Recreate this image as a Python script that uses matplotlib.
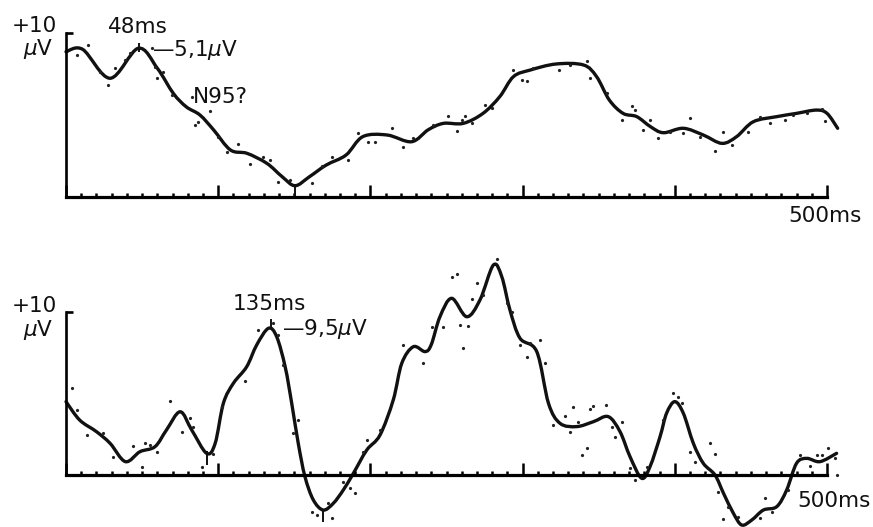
import numpy as np
import matplotlib
matplotlib.use('Agg')
import matplotlib.pyplot as plt
from matplotlib.path import Path
from matplotlib.patches import PathPatch
from matplotlib.ticker import MultipleLocator

plt.rcParams['font.family'] = ['DejaVu Sans']
plt.rcParams['mathtext.fontset'] = 'dejavusans'

# ---- data (ms, uV in panel units: x-axis = 0, bracket = +10) ----
top_ms = [0, 11, 29, 47.5, 60, 70.5, 79, 88, 97, 108, 119, 132, 142, 150.5, 160,
          171, 184, 195, 211, 227, 238, 248, 261, 274, 285, 294, 305, 322, 340, 348.6,
          357, 366, 375, 384, 392.5, 405.6, 418.7, 431, 440.6, 451.6, 467, 480, 493, 500, 507]
top_uv = [8.86, 9.0, 7.24, 9.07, 7.85, 6.32, 5.5, 5.0, 4.09, 2.87, 2.66, 2.05, 1.24, 0.69, 1.24,
          1.95, 2.56, 3.68, 3.78, 3.37, 4.1, 4.49, 4.49, 5.1, 6.12, 7.34, 7.74, 8.11, 8.05, 7.34,
          5.91, 5.1, 4.9, 4.29, 3.92, 4.19, 3.78, 3.27, 3.68, 4.59, 4.9, 5.1, 5.3, 5.1, 4.19]

top_dot_ms = [7, 14.7, 22.3, 27.8, 32.2, 38.8, 42, 56.3, 58.5, 59.6, 64, 69.4, 82.6, 84.8, 86.9,
              94.6, 100.1, 105.6, 113.2, 120.9, 129.7, 134, 139.5, 147.2, 161.4, 168, 174.6,
              185.5, 192.1, 198.6, 203, 214, 221.6, 228.2, 241.3, 251.2, 256.7, 260, 262.1,
              266.5, 275.3, 279.7, 293.9, 299.4, 302.7, 307.1, 323.6, 331.2, 342.2, 344.3,
              355.3, 365.2, 371.7, 373.9, 379.4, 383.7, 389.2, 396.8, 405.6, 410, 416.6, 426.4,
              431.9, 437.4, 448.4, 456, 462.6, 472.4, 477.9, 486.7, 496.6, 498.7]
top_dot_uv = [8.66, 9.27, 7.64, 6.83, 7.85, 8.35, 8.76, 9.07, 7.95, 7.24, 7.64, 6.22, 6.08, 4.39, 4.59,
              5.24, 3.68, 2.76, 3.21, 2.01, 2.46, 2.26, 0.93, 1.04, 0.83, 1.91, 2.46,
              2.26, 3.88, 3.37, 3.37, 4.19, 3.07, 3.58, 4.39, 4.94, 4.02, 4.7, 4.94,
              4.49, 5.61, 5.41, 7.74, 7.13, 7.09, 7.85, 7.74, 8.05, 8.31, 7.24,
              6.32, 4.7, 5.55, 5.3, 4.09, 4.7, 3.62, 3.98, 3.88, 4.8, 3.68, 2.83,
              3.94, 3.17, 3.98, 4.9, 4.49, 4.7, 5.0, 5.1, 5.35, 4.65]

bot_ms = [0, 9, 20, 29, 39, 48.6, 58.5, 66, 75, 82.6, 92.4, 98, 103.4, 110, 118.7,
          125.3, 133, 138.4, 144, 148.3, 152.6, 157, 162.5, 169, 175.6, 182.2, 188.8, 197.6,
          206.3, 215, 220.6, 228.2, 235.9, 240, 245.7, 253.4, 263.3, 272, 280.8, 286.3,
          291.7, 298.3, 309.3, 317, 324.6, 335.6, 346.5, 356.3, 364, 370.6, 378.2, 383.7,
          390.3, 394.6, 400, 405.6, 412.2, 418.7, 426.4, 432, 438.5, 444, 450.6, 458.2,
          467, 473.5, 480, 486.7, 495.4, 506.3]
bot_uv = [4.5, 3.37, 2.66, 1.94, 0.82, 1.43, 1.74, 2.76, 3.88, 2.76, 1.33, 1.94, 4.4, 5.63, 6.64,
          7.98, 9.0, 8.49, 6.64, 4.4, 1.94, -0.1, -1.53, -2.15, -1.74, -0.92, 0.1, 1.53,
          2.45, 4.6, 6.85, 7.87, 7.57, 8.0, 9.71, 10.84, 9.71, 10.74, 12.88, 12.17,
          10.12, 8.39, 7.57, 4.4, 3.17, 2.97, 3.27, 3.58, 2.66, 1.12, -0.2, 0.51,
          2.35, 3.79, 4.5, 3.79, 1.94, 0.72, 0, -1.12, -2.35, -3.07, -2.76, -2.15,
          -1.94, -0.92, 0.72, 1.02, 0.82, 1.33]

bot_dot_ms = [3.7, 7, 13.6, 24.5, 31.1, 44.2, 49.7, 51.9, 55.2, 59.6, 68.3, 76, 81.5, 83.7, 89.1,
              96.8, 102.3, 117.6, 126.4, 136.2, 139.5, 142.8, 149.4, 152.7, 161.4, 164.7, 172.4,
              174.6, 182.2, 186.6, 189.9, 195.4, 197.5, 206.3, 221.6, 234.8, 240.3, 247.9,
              253.4, 256.7, 258.9, 261.1, 264.3, 266.5, 269.8, 274.2, 283, 289.5, 292.8, 298.3,
              302.7, 304.9, 311.5, 314.8, 320.2, 327.9, 331.2, 333.4, 336.7, 338.8, 342.1,
              344.3, 346.5, 354.8, 358.6, 360.8, 365.2, 370.6, 373.9, 381.6, 392.5, 399,
              402.3, 404.5, 410, 413.3, 423.1, 426.4, 428.6, 431.9, 435.2, 441.8, 456, 459.3,
              463.7, 474.6, 482.3, 488.8, 493.2, 496.6, 500.9, 505.3, 506.4]
bot_dot_uv = [5.32, 3.99, 2.45, 2.56, 1.12, 1.78, 0.47, 1.98, 1.84, 1.43, 4.56, 2.66, 3.48, 2.97, 0.51,
              1.29, 4.19, 5.77, 8.9, 9.3, 8.59, 6.75, 2.56, 3.37, -2.25, -2.45, -1.74,
              -2.66, -0.41, -0.82, -1.12, 1.43, 2.15, 2.76, 7.98, 6.85, 9.06, 9.1,
              12.17, 12.33, 9.2, 7.81, 9.14, 10.78, 11.76, 11.04, 13.23, 10.53, 10.02, 7.98,
              7.26, 8.08, 8.28, 6.89, 3.07, 3.64, 2.66, 4.15, 3.27, 1.23, 1.64,
              4.07, 4.23, 4.29, 2.92, 2.31, 3.27, 0.41, -0.31, 0.51, 3.37, 5.05,
              4.81, 4.44, 1.43, 0.82, 1.94, 1.29, -1.02, -2.72, -1.94, -2.56, -2.66, -1.43,
              -2.25, -0.92, 1.23, 0.55, 1.23, 1.23, 1.64, 1.02, 0.0]

W, H = 873, 527


def px(x, y):
    return x / W, 1 - y / H


def smooth_path(xs, ys):
    # Catmull-Rom through the read points, drawn as cubic Bezier segments
    pts = np.column_stack([xs, ys])
    p = np.vstack([pts[0], pts, pts[-1]])
    verts, codes = [pts[0]], [Path.MOVETO]
    for i in range(1, len(p) - 2):
        p0, p1, p2, p3 = p[i - 1], p[i], p[i + 1], p[i + 2]
        verts += [p1 + (p2 - p0) / 6, p2 - (p3 - p1) / 6, p2]
        codes += [Path.CURVE4] * 3
    return Path(verts, codes)


def panel(rect, ms, uv, dms, duv):
    ax = fig.add_axes(rect)
    ax.set_xlim(0, 500); ax.set_ylim(0, 10)
    ax.patch.set_alpha(0)
    for s in ['top', 'right']:
        ax.spines[s].set_visible(False)
    ax.spines['bottom'].set_linewidth(2.3)
    ax.spines['left'].set_linewidth(1.9)
    ax.spines['bottom'].set_bounds(0, 500)
    ax.spines['left'].set_bounds(0, 10)
    ax.xaxis.set_major_locator(MultipleLocator(100))
    ax.xaxis.set_minor_locator(MultipleLocator(10))
    ax.tick_params(axis='x', which='major', direction='in', length=8.5, width=1.8, labelbottom=False)
    ax.tick_params(axis='x', which='minor', direction='in', length=3, width=1.8)
    ax.set_yticks([10])
    ax.tick_params(axis='y', direction='in', length=5, width=1.9, labelleft=False)
    ax.add_patch(PathPatch(smooth_path(ms, uv), fill=False, lw=2.4, color='#111111',
                           clip_on=False, capstyle='round', joinstyle='round'))
    ax.plot(dms, duv, 'o', ms=2.3, color='#222222', mec='none', clip_on=False)
    return ax


fig = plt.figure(figsize=(8.73, 5.27), dpi=100)

ax1 = panel([66 / W, 1 - 197 / H, 761 / W, 164 / H], top_ms, top_uv, top_dot_ms, top_dot_uv)
ax2 = panel([66 / W, 1 - 475 / H, 761 / W, 163 / H], bot_ms, bot_uv, bot_dot_ms, bot_dot_uv)

# peak markers
ax1.vlines(48, 8.85, 9.4, color='#111111', lw=1.4, clip_on=False)
ax1.vlines(150.5, 0, 0.7, color='#111111', lw=1.4, clip_on=False)
ax2.vlines(135, 9.0, 9.6, color='#111111', lw=1.4, clip_on=False)
ax2.vlines(92.4, 0.6, 1.5, color='#111111', lw=1.4, clip_on=False)
ax2.vlines(169, -2.9, -2.2, color='#111111', lw=1.4, clip_on=False)

fs = 15.5
kw = dict(fontsize=fs, color='#111111', va='baseline')
fig.text(*px(12, 32), '+10', ha='left', **kw)
fig.text(*px(53, 55), r'$\mu$V', ha='right', **kw)
fig.text(*px(138, 33), '48ms', ha='center', **kw)
fig.text(*px(152, 56), '\u20145,1$\\mu$V', ha='left', **kw)
fig.text(*px(193, 103), 'N95?', ha='left', **kw)
fig.text(*px(788, 222), '500ms', ha='left', **kw)

fig.text(*px(12, 312), '+10', ha='left', **kw)
fig.text(*px(53, 336), r'$\mu$V', ha='right', **kw)
fig.text(*px(269, 310), '135ms', ha='center', **kw)
fig.text(*px(282, 335), '\u20149,5$\\mu$V', ha='left', **kw)
fig.text(*px(797, 507), '500ms', ha='left', **kw)

plt.savefig('out.png', dpi=100)
plt.close()
